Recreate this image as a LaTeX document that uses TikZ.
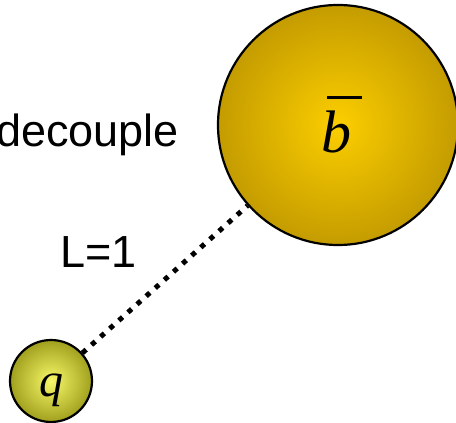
\documentclass[tikz,border=0pt]{standalone}
\usepackage{fontspec}
\setmainfont{Liberation Serif}
\newfontfamily\arialfont{Liberation Sans}
\definecolor{bigin}{RGB}{252,206,0}
\definecolor{bigout}{RGB}{196,156,0}
\definecolor{smin}{RGB}{248,248,105}
\definecolor{smout}{RGB}{160,160,30}
\tikzset{
  ball/.style={circle, draw=black, line width=2.2pt, inner sep=0pt},
  lbl/.style={font=\arialfont\fontsize{45}{54}\selectfont, inner sep=0pt},
  sym/.style={inner sep=0pt, anchor=base west},
  link/.style={line width=5pt, dash pattern=on 5pt off 7.2pt}
}
\begin{document}
\begin{tikzpicture}[x=1pt,y=1pt]
\useasboundingbox (0,0) rectangle (456,423);
\node[ball, minimum size=240pt, inner color=bigin, outer color=bigout] (b) at (338,298) {};
\node[ball, minimum size=82pt, inner color=smin, outer color=smout] (q) at (51,42) {};
\node[sym, font=\fontsize{60}{62}\selectfont\itshape] (bt) at (321,270)
  {\rlap{\hspace{6pt}\raisebox{53.5pt}{\rule{35pt}{3pt}}}b};
\node[sym, font=\fontsize{48}{50}\selectfont\itshape] (qt) at (39,26) {q};
\draw[link] (q) -- (b);
\node[lbl, anchor=base west] (dec) at (-4,276) {decouple};
\node[lbl, anchor=base west] (L) at (60,155) {L=1};
\end{tikzpicture}
\end{document}
